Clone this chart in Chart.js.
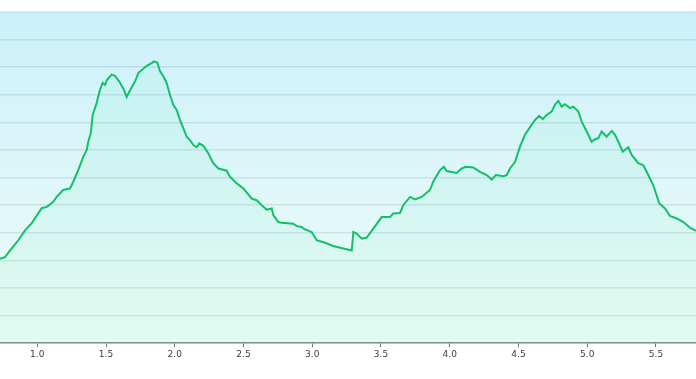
<!DOCTYPE html>
<html>
<head>
<meta charset="utf-8">
<script src="https://cdn.jsdelivr.net/npm/chart.js@4/dist/chart.umd.min.js"></script>
<style>
  html, body { margin: 0; padding: 0; background: #fff; }
  #wrap { width: 696px; height: 379px; position: relative; }
</style>
</head>
<body>
<div id="wrap"><canvas id="profile"></canvas></div>
<script>
// distance along route (x) and elevation (y, arbitrary units, one gridline = 10)
var distance = [0.729, 0.765, 0.802, 0.838, 0.862, 0.911, 0.960, 1.032, 1.069, 1.117, 1.141, 1.189, 1.238, 1.262, 1.298, 1.335, 1.360, 1.371, 1.389, 1.403, 1.432, 1.456, 1.476, 1.493, 1.509, 1.541, 1.565, 1.597, 1.631, 1.650, 1.680, 1.711, 1.735, 1.796, 1.832, 1.849, 1.873, 1.893, 1.917, 1.941, 1.965, 1.989, 2.014, 2.038, 2.062, 2.087, 2.111, 2.135, 2.160, 2.178, 2.208, 2.244, 2.280, 2.317, 2.378, 2.402, 2.451, 2.499, 2.560, 2.596, 2.644, 2.669, 2.705, 2.717, 2.753, 2.778, 2.862, 2.887, 2.923, 2.940, 2.996, 3.032, 3.093, 3.153, 3.226, 3.287, 3.299, 3.323, 3.360, 3.396, 3.444, 3.505, 3.565, 3.589, 3.638, 3.662, 3.711, 3.747, 3.796, 3.856, 3.880, 3.929, 3.958, 3.978, 4.050, 4.087, 4.118, 4.171, 4.220, 4.269, 4.305, 4.336, 4.389, 4.414, 4.438, 4.475, 4.511, 4.547, 4.584, 4.620, 4.651, 4.676, 4.705, 4.741, 4.765, 4.790, 4.814, 4.838, 4.875, 4.899, 4.935, 4.960, 4.996, 5.032, 5.056, 5.080, 5.105, 5.141, 5.178, 5.202, 5.226, 5.258, 5.299, 5.323, 5.371, 5.408, 5.432, 5.480, 5.524, 5.566, 5.602, 5.651, 5.699, 5.747, 5.791];
var elevation = [30.6, 31.2, 33.6, 35.8, 37.3, 40.9, 43.5, 48.9, 49.4, 51.2, 53.0, 55.5, 56.1, 58.5, 62.7, 67.6, 70.0, 73.0, 76.1, 82.7, 87.0, 91.8, 94.3, 93.6, 95.5, 97.3, 96.9, 94.8, 91.8, 89.2, 92.1, 94.8, 97.9, 100.5, 101.5, 102.1, 101.7, 98.5, 96.7, 94.3, 90.0, 86.4, 84.5, 80.9, 77.9, 74.8, 73.6, 71.8, 71.0, 72.4, 71.5, 68.8, 65.2, 63.3, 62.5, 60.3, 57.9, 56.1, 52.4, 51.8, 49.4, 48.4, 48.8, 46.4, 43.9, 43.6, 43.3, 42.4, 42.1, 41.4, 40.3, 37.3, 36.4, 35.2, 34.3, 33.6, 40.3, 39.7, 37.9, 38.3, 41.5, 45.7, 45.7, 47.0, 47.2, 50.0, 53.0, 52.1, 53.0, 55.5, 58.5, 62.7, 63.9, 62.4, 61.7, 63.3, 63.9, 63.7, 62.1, 60.9, 59.3, 60.9, 60.5, 60.9, 63.3, 65.7, 71.2, 75.5, 78.3, 80.9, 82.4, 81.2, 82.7, 83.9, 86.4, 87.8, 85.7, 86.6, 85.2, 85.7, 83.9, 80.3, 76.7, 73.0, 73.9, 74.3, 76.7, 74.8, 76.9, 75.5, 73.0, 69.4, 71.0, 68.2, 65.2, 64.5, 62.1, 57.3, 50.6, 48.8, 46.1, 45.2, 43.9, 41.9, 40.7];
var xTicks = [1.0, 1.5, 2.0, 2.5, 3.0, 3.5, 4.0, 4.5, 5.0, 5.5];

var points = distance.map(function(d, i) { return { x: d, y: elevation[i] }; });

// sky-to-mint background behind the plot area
var bgPlugin = {
    id: 'bg',
    beforeDraw: function(chart) {
        var a = chart.chartArea, ctx = chart.ctx;
        var g = ctx.createLinearGradient(0, a.top, 0, a.bottom);
        g.addColorStop(0, '#ccf0fb');
        g.addColorStop(1, '#f0fdf7');
        ctx.save();
        ctx.fillStyle = g;
        ctx.fillRect(a.left, a.top, a.right - a.left, a.bottom - a.top);
        ctx.restore();
    }
};

new Chart(document.getElementById('profile'), {
    type: 'line',
    data: {
        datasets: [{
            data: points,
            borderColor: '#12c06a',
            borderWidth: 2,
            backgroundColor: 'rgba(90, 235, 175, 0.09)',
            fill: 'origin',
            pointRadius: 0,
            tension: 0
        }]
    },
    options: {
        animation: false,
        responsive: true,
        maintainAspectRatio: false,
        layout: { padding: { top: 12, left: 0, right: 0, bottom: 17 } },
        plugins: { legend: { display: false }, tooltip: { enabled: false } },
        scales: {
            x: {
                type: 'linear',
                min: distance[0],
                max: distance[distance.length - 1],
                afterBuildTicks: function(scale) {
                    scale.ticks = xTicks.map(function(v) { return { value: v }; });
                },
                ticks: {
                    autoSkip: false,
                    maxRotation: 0,
                    padding: 2,
                    color: '#3a3a4a',
                    font: { family: 'DejaVu Sans', size: 9 },
                    callback: function(v) { return Number(v).toFixed(1); }
                },
                grid: { drawOnChartArea: false, drawTicks: true, tickLength: 4, color: '#777' },
                border: { color: '#888', width: 1.5 }
            },
            y: {
                min: 0,
                max: 120,
                ticks: { display: false, stepSize: 10 },
                grid: { drawTicks: false, color: 'rgba(0, 40, 60, 0.1)', lineWidth: 1.5 },
                border: { display: false }
            }
        }
    },
    plugins: [bgPlugin]
});
</script>
</body>
</html>
